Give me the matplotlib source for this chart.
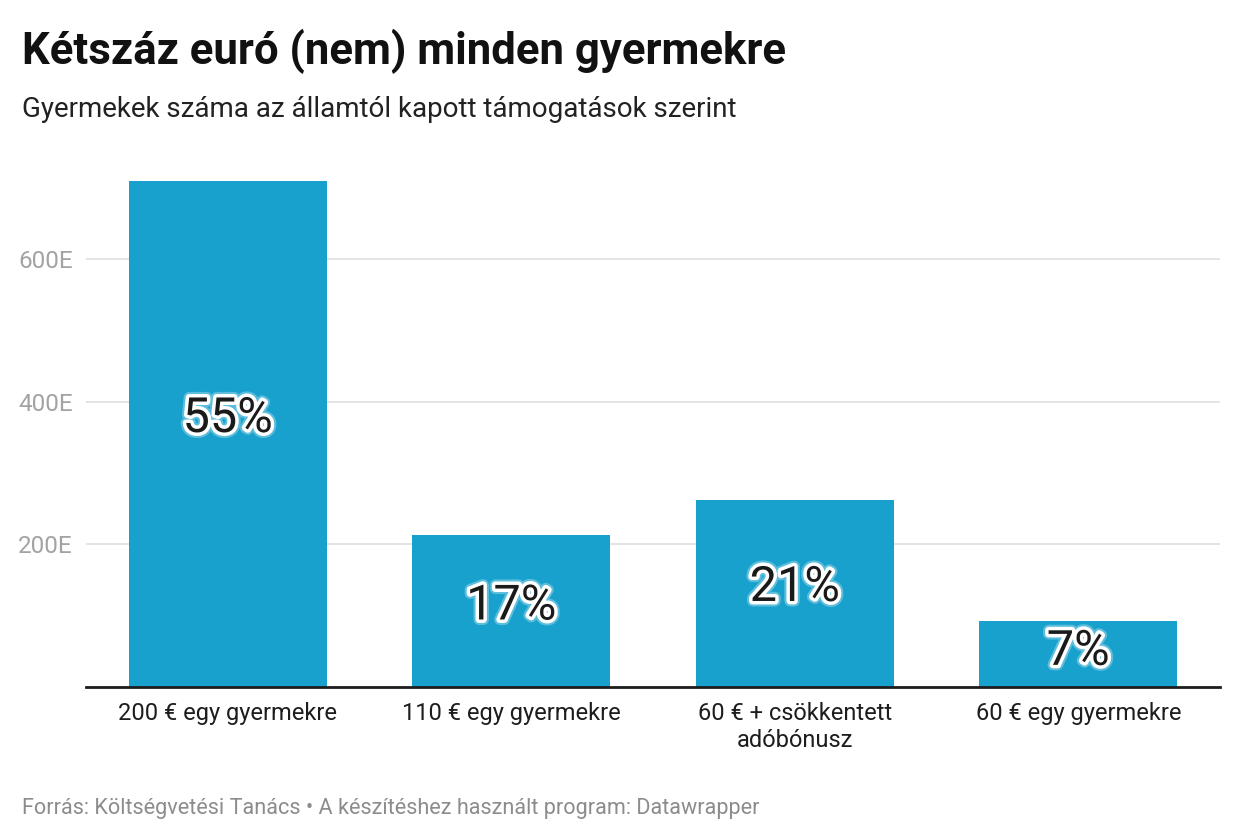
import matplotlib.pyplot as plt
import matplotlib.patheffects as pe
import numpy as np

plt.rcParams['font.family'] = ['Roboto', 'DejaVu Sans']

categories = ["200 € egy gyermekre", "110 € egy gyermekre",
              "60 € + csökkentett\nadóbónusz", "60 € egy gyermekre"]
children = [709, 213, 262, 93]  # thousands
shares = ["55%", "17%", "21%", "7%"]
yticks = [200, 400, 600]
ytick_labels = ["200E", "400E", "600E"]

fig = plt.figure(figsize=(12.4, 8.4), dpi=100)
ax = fig.add_axes([86 / 1240, 1 - 687 / 840, (1220 - 86) / 1240, (687 - 170) / 840])

x = np.arange(len(categories))
ax.bar(x, children, width=0.7, color="#18a1cd", zorder=2)

for xi, v, s in zip(x, children, shares):
    ax.text(xi, v * 0.53, s, ha="center", va="center", fontsize=35,
            color="#1a1a1a", zorder=3,
            path_effects=[pe.withStroke(linewidth=8, foreground=(1, 1, 1, 0.3)),
                          pe.withStroke(linewidth=5, foreground="white")])

ax.set_xlim(-0.5, 3.5)
ax.set_ylim(0, 725)
ax.set_yticks(yticks)
ax.set_yticklabels(ytick_labels)
ax.set_xticks(x)
ax.set_xticklabels(categories, fontsize=17, color="#1d1d1d", linespacing=1.2)
ax.tick_params(axis="y", length=0, pad=9.5, labelsize=17.5, labelcolor="#a3a3a3")
ax.tick_params(axis="x", length=0, pad=11)
ax.grid(axis="y", color="#e2e2e2", linewidth=1.3, zorder=0)
for side in ["top", "right", "left"]:
    ax.spines[side].set_visible(False)
ax.spines["bottom"].set_color("#1d1d1d")
ax.spines["bottom"].set_linewidth(2)
ax.spines["bottom"].set_zorder(4)

fig.text(22 / 1240, 1 - 64 / 840, "Kétszáz euró (nem) minden gyermekre",
         fontsize=31.5, fontweight="bold", color="#111111", va="baseline")
fig.text(22 / 1240, 1 - 117 / 840, "Gyermekek száma az államtól kapott támogatások szerint",
         fontsize=20, color="#222222", va="baseline")
fig.text(22 / 1240, 1 - 814 / 840,
         "Forrás: Költségvetési Tanács • A készítéshez használt program: Datawrapper",
         fontsize=15.6, color="#8c8c8c", va="baseline")

fig.savefig("out.png", dpi=100)
